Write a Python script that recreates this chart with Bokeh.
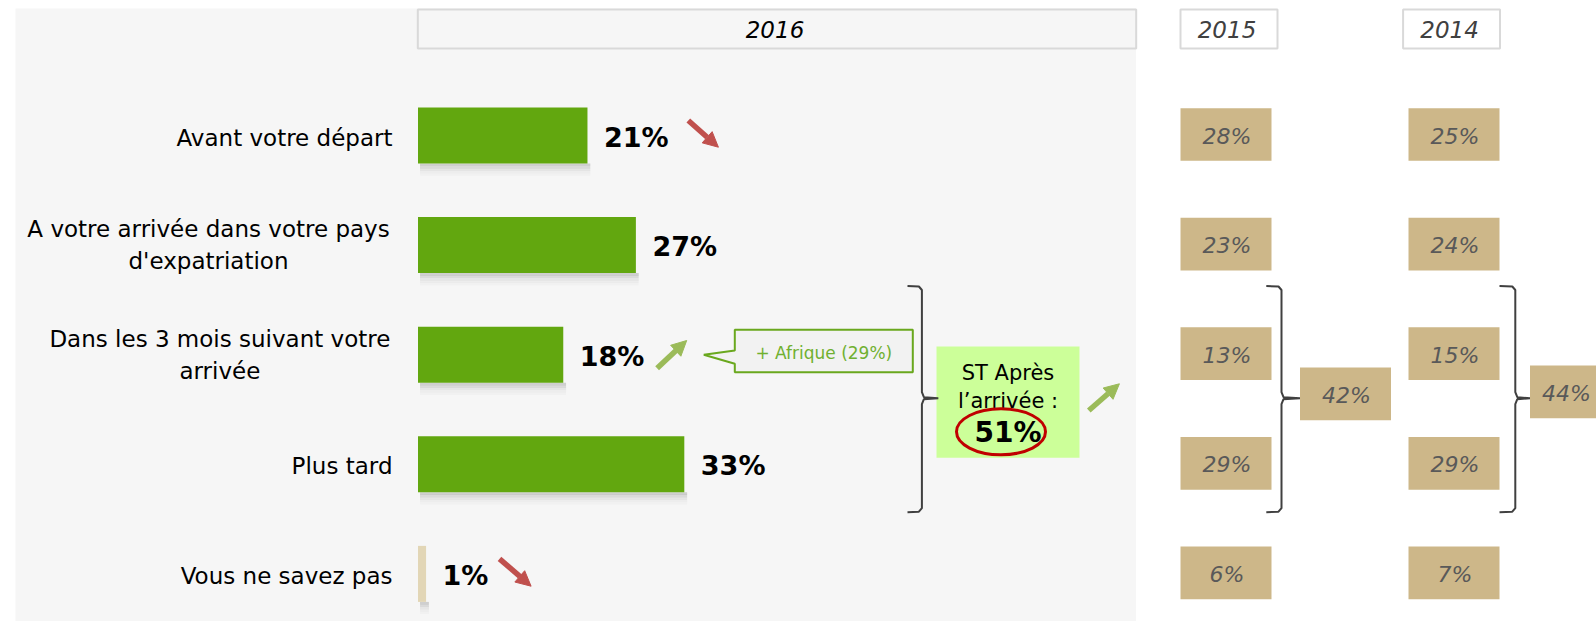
from bokeh.plotting import figure
from bokeh.models import Range1d, Arrow, NormalHead
from bokeh.core.properties import value
from bokeh.embed import file_html
from bokeh.resources import INLINE

# ---------------- data ----------------
CATEGORIES = [
    "Avant votre départ",
    "A votre arrivée dans votre pays\nd'expatriation",
    "Dans les 3 mois suivant votre\narrivée",
    "Plus tard",
    "Vous ne savez pas",
]
VALUES_2016 = [21, 27, 18, 33, 1]
VALUES_2015 = [28, 23, 13, 29, 6]
VALUES_2014 = [25, 24, 15, 29, 7]
YEARS = ["2016", "2015", "2014"]
SUBTOTAL_2016 = 51
SUBTOTAL_2015 = 42
SUBTOTAL_2014 = 44
TRENDS = ["down", None, "up", None, "down"]
SUBTOTAL_TREND = "up"
CALLOUT_TEXT = "+ Afrique (29%)"
ST_LINES = ["ST Après", "l’arrivée :"]

# ---------------- layout / style ----------------
W, H = 1596, 621
OX, OY = 0, 0               # page offset of the figure
X0 = 417.5                  # page x of 0 %
PX = 8.07                   # pixels per percent


def X(px):
    """page pixel -> data x (percent units)"""
    return (px - X0) / PX


ROW_Y = [135 + 109.6 * i for i in range(len(CATEGORIES))]
BAR_H = 56
GREEN = "#62a70f"
BEIGE = "#e2d6b6"
TAN = "#cdb789"
PANEL = "#f6f6f6"
BORDER = "#d9d9d9"
RED_ARROW = "#c0504d"
GREEN_ARROW = "#9bbb59"
FONT = value("DejaVu Sans")

p = figure(
    width=W, height=H,
    x_range=Range1d(X(OX), X(OX + W)),
    y_range=Range1d(OY + H, OY),
    toolbar_location=None, output_backend="svg",
    x_axis_location=None, y_axis_location=None,
    min_border=0, outline_line_color=None,
    background_fill_color="white", border_fill_color="white",
)
p.grid.visible = False

# grey panel behind 2016
p.quad(left=X(15), right=X(1135.5), top=8, bottom=OY + H,
       fill_color=PANEL, line_color=None)

# year headers
HEAD_BOX = [(417.3, 1135.7, PANEL, "black"),
            (1180.0, 1277.0, "white", "#404040"),
            (1402.6, 1499.5, "white", "#404040")]
for year, (l, r, fc, tc) in zip(YEARS, HEAD_BOX):
    p.quad(left=X(l), right=X(r), top=9, bottom=48, fill_color=fc,
           line_color=BORDER, line_width=2)
    p.text(x=[X((l + r) / 2 - 2)], y=[29], text=[year], text_font=FONT,
           text_font_size="23px", text_font_style="italic", text_color=tc,
           text_align="center", text_baseline="middle")

# bar shadows
for k, a in enumerate([0.26, 0.18, 0.11, 0.06, 0.03]):
    p.hbar(y=[ry + BAR_H / 2 + 1.3 + 2.4 * k for ry in ROW_Y], height=2.6,
           left=0.25, right=[v + 0.35 for v in VALUES_2016],
           fill_color="#606060", fill_alpha=a, line_color=None)

# 2016 bars
bar_colors = [GREEN, GREEN, GREEN, GREEN, BEIGE]
p.hbar(y=ROW_Y, height=BAR_H, left=0, right=VALUES_2016,
       fill_color=bar_colors, line_color=None)

# value labels
p.text(x=[v + 16.5 / PX for v in VALUES_2016], y=[ry + 1.5 for ry in ROW_Y],
       text=[f"{v}%" for v in VALUES_2016], text_font=FONT,
       text_font_size="27px", text_font_style="bold", text_color="black",
       text_align="left", text_baseline="middle")

# category labels
LABEL_RIGHT = 392
MULTI_CENTER = {1: 208.0, 2: 219.4}
LINE_GAP = 31.7
for i, (cat, ry) in enumerate(zip(CATEGORIES, ROW_Y)):
    lines = cat.split("\n")
    if len(lines) == 1:
        p.text(x=[X(LABEL_RIGHT)], y=[ry + 2], text=[cat], text_font=FONT,
               text_font_size="23px", text_color="black",
               text_align="right", text_baseline="middle")
    else:
        n = len(lines)
        for j, ln in enumerate(lines):
            yy = ry + (j - (n - 1) / 2) * LINE_GAP
            p.text(x=[X(MULTI_CENTER[i])], y=[yy], text=[ln], text_font=FONT,
                   text_font_size="23px", text_color="black",
                   text_align="center", text_baseline="middle")

# trend arrows
ARROW_POS = {0: (687.8, 120.0, 717.9, 146.7),
             2: (656.6, 367.7, 686.2, 340.0),
             4: (499.0, 558.3, 530.6, 585.7)}
for i, t in enumerate(TRENDS):
    if t is None:
        continue
    x1, y1, x2, y2 = ARROW_POS[i]
    col = RED_ARROW if t == "down" else GREEN_ARROW
    p.add_layout(Arrow(end=NormalHead(size=15, fill_color=col, line_color=col),
                       x_start=X(x1), y_start=y1, x_end=X(x2), y_end=y2,
                       line_color=col, line_width=5.5))
col = GREEN_ARROW if SUBTOTAL_TREND == "up" else RED_ARROW
p.add_layout(Arrow(end=NormalHead(size=15, fill_color=col, line_color=col),
                   x_start=X(1088.3), y_start=410, x_end=X(1118.9), y_end=383.3,
                   line_color=col, line_width=5.5))

# callout "+ Afrique"
cx = [734.3, 912.3, 912.3, 734.3, 734.3, 703.3, 734.3]
cy = [329.3, 329.3, 371.7, 371.7, 363.3, 354.3, 350.0]
p.patch(x=[X(v) for v in cx], y=cy, fill_color="#f2f2f2",
        line_color="#6aa81e", line_width=2)
p.text(x=[X(823.3)], y=[352], text=[CALLOUT_TEXT], text_font=FONT,
       text_font_size="17px", text_color="#70b030",
       text_align="center", text_baseline="middle")

# ST box
p.quad(left=X(936), right=X(1079), top=346, bottom=457.3,
       fill_color="#ccff99", line_color=None)
p.text(x=[X(1007.5)] * 2, y=[372, 400], text=ST_LINES, text_font=FONT,
       text_font_size="21px", text_color="black",
       text_align="center", text_baseline="middle")
p.text(x=[X(1007.5)], y=[432], text=[f"{SUBTOTAL_2016}%"], text_font=FONT,
       text_font_size="28px", text_font_style="bold", text_color="black",
       text_align="center", text_baseline="middle")
p.ellipse(x=[X(1000.5)], y=[431.3], width=[89 / PX], height=[46],
          fill_color=None, line_color="#c00000", line_width=3)


# braces
def brace(xl, xh, xp, yt, ym, yb):
    xs = [xh, xl - 3, xl, xl, xl + 2, xp, xl + 2, xl, xl, xl - 3, xh]
    ys = [yt, yt + 0.5, yt + 4, ym - 6, ym - 1, ym, ym + 1, ym + 6, yb - 4, yb - 0.5, yb]
    p.line(x=[X(v) for v in xs], y=ys, line_color="#404040", line_width=2)


brace(921.4, 907.0, 937.8, 285.5, 397.7, 511.7)
brace(1281.0, 1265.8, 1299.5, 285.5, 397.7, 511.7)
brace(1514.8, 1499.0, 1529.6, 285.5, 397.7, 511.7)

# 2015 / 2014 value boxes
BOX_W = 91 / PX
BOX_H = 52.7
TXT = dict(text_font=FONT, text_font_size="22px", text_font_style="italic",
           text_color="#595959", text_align="center", text_baseline="middle")
for xc, vals in [(1225.5, VALUES_2015), (1453.5, VALUES_2014)]:
    ys = [ry - 1 for ry in ROW_Y]
    p.rect(x=[X(xc)] * len(vals), y=ys, width=BOX_W, height=BOX_H,
           fill_color=TAN, line_color=None)
    p.text(x=[X(xc + 1)] * len(vals), y=[y + 1.5 for y in ys],
           text=[f"{v}%" for v in vals], **TXT)

for xc, yc, tx, v in [(1345.0, 393.3, 1346.0, SUBTOTAL_2015),
                      (1575.0, 391.3, 1566.0, SUBTOTAL_2014)]:
    p.rect(x=[X(xc)], y=[yc], width=BOX_W, height=BOX_H,
           fill_color=TAN, line_color=None)
    p.text(x=[X(tx)], y=[yc + 1.5], text=[f"{v}%"], **TXT)

open("out.html", "w").write(file_html(p, INLINE))
